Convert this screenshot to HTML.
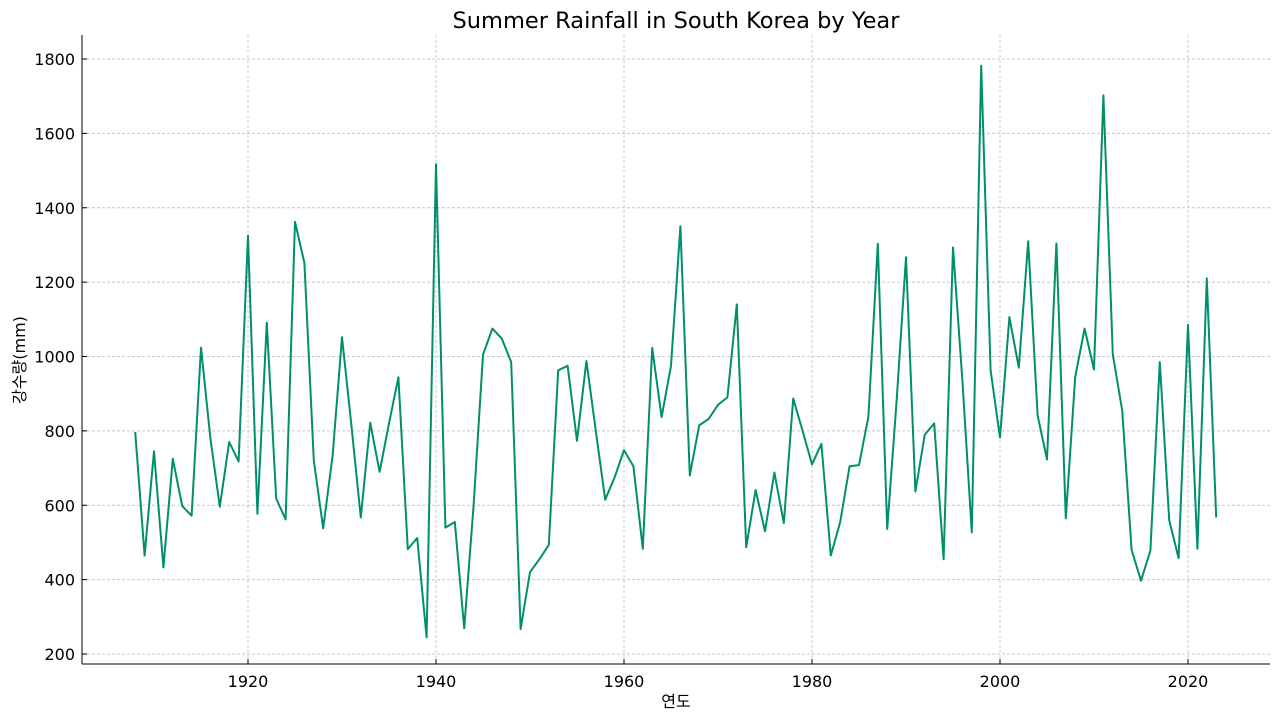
<!DOCTYPE html>
<html><head><meta charset="utf-8"><style>
html,body{margin:0;padding:0;background:#fff;width:1280px;height:720px;overflow:hidden}
svg text{font-family:"DejaVu Sans","Liberation Sans","Noto Sans CJK KR",sans-serif;fill:#000}
</style></head><body>
<svg id="chart" width="1280" height="720">
<text x="676" y="28" font-size="22.5" text-anchor="middle">Summer Rainfall in South Korea by Year</text>
<g id="grid"></g>
<g id="axes"></g>
<path id="line" fill="none" stroke="#008f6b" stroke-width="2" stroke-linejoin="round"/>
<text x="676" y="707" font-size="16" text-anchor="middle">연도</text>
<text transform="translate(25,360) rotate(-90)" font-size="16" text-anchor="middle">강수량(mm)</text>
</svg>
<script>
const startYear = 1908;
const rainfall = [797,465,745,433,725,598,572,1024,780,596,770,718,1325,577,1091,618,562,1362,1252,720,538,733,1052,815,567,822,690,820,944,482,512,245,1517,540,555,269,600,1005,1075,1048,985,267,420,455,493,963,975,773,988,800,615,675,748,705,483,1023,837,975,1350,680,815,832,870,890,1140,487,641,530,688,552,887,800,710,765,465,555,705,708,838,1303,536,880,1267,637,790,820,455,1293,935,527,1782,963,782,1106,970,1310,842,723,1304,565,945,1075,965,1702,1005,855,480,397,478,985,560,458,1085,483,1210,567];
const xTicks = [1920,1940,1960,1980,2000,2020];
const yTicks = [200,400,600,800,1000,1200,1400,1600,1800];

const L=82,R=1270,T=35,B=664;
const xs = y => 248 + (y-1920)*9.4;
const ys = v => 654 - (v-200)*0.371875;
const NS="http://www.w3.org/2000/svg";
const grid=document.getElementById('grid'), axes=document.getElementById('axes');
function mk(tag,attrs,parent){const e=document.createElementNS(NS,tag);for(const k in attrs)e.setAttribute(k,attrs[k]);parent.appendChild(e);return e;}
xTicks.forEach(t=>{
  const x=xs(t);
  const g=mk('line',{x1:x,x2:x,y1:T,y2:B,stroke:'#c8c8c8','stroke-dasharray':'3,2','stroke-width':1},grid);
  
  
  const tk=mk('line',{x1:x,x2:x,y1:B,y2:B-5,stroke:'#000'},axes);
  
  
  const lb=mk('text',{x:x,y:B+23,'font-size':16,'text-anchor':'middle'},axes);
  lb.textContent=t;
  
  
});
yTicks.forEach(t=>{
  const y=ys(t);
  const g=mk('line',{x1:L,x2:R,y1:y,y2:y,stroke:'#c8c8c8','stroke-dasharray':'3,2','stroke-width':1},grid);
  
  
  const tk=mk('line',{x1:L,x2:L+5,y1:y,y2:y,stroke:'#000'},axes);
  
  
  const lb=mk('text',{x:L-7,y:y+6,'font-size':16,'text-anchor':'end'},axes);
  lb.textContent=t;
  
  
});
const ax1=mk('line',{x1:L,x2:L,y1:T,y2:B,stroke:'#000','stroke-width':1},axes);


const ax2=mk('line',{x1:L,x2:R,y1:B,y2:B,stroke:'#000','stroke-width':1},axes);


document.getElementById('line').setAttribute('d',rainfall.map((v,i)=>(i?'L':'M')+xs(startYear+i).toFixed(1)+','+ys(v).toFixed(1)).join(''));
</script>
</body></html>
